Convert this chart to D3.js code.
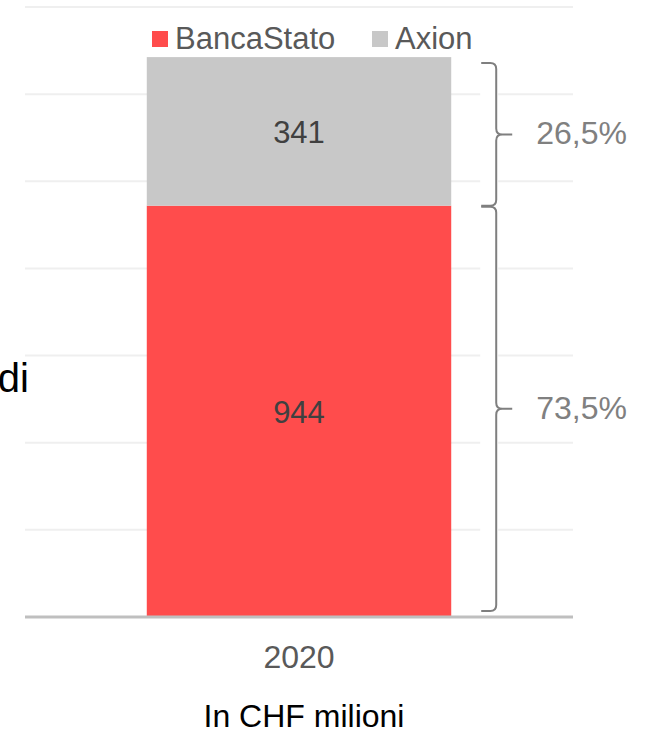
<!DOCTYPE html>
<html>
<head>
<meta charset="utf-8">
<script src="https://cdn.jsdelivr.net/npm/d3@7"></script>
<style>
  body { margin: 0; background: #fff; }
  svg text { font-family: "Liberation Sans", Arial, sans-serif; }
</style>
</head>
<body>
<div id="chart"></div>
<script>
// chart data
var years = ["2020"];
var seriesNames = ["BancaStato", "Axion"];
var seriesColors = ["#ff4c4c", "#c8c8c8"];
var bancaStato = [944];
var axion = [341];
var yTicks = [0, 200, 400, 600, 800, 1000, 1200, 1400];

var width = 647, height = 731;
var margin = {"left": 25, "right": 74, "top": 7, "bottom": 114};

var svg = d3.select("#chart").append("svg")
  .attr("width", width).attr("height", height);

var y = d3.scaleLinear()
  .domain([0, 1400])
  .range([height - margin.bottom, margin.top]);

var x = d3.scaleBand()
  .domain(years)
  .range([margin.left, width - margin.right])
  .paddingInner(0)
  .paddingOuter(0.4);

// gridlines
svg.append("g").selectAll("line")
  .data(yTicks.filter(function(d) { return d > 0; }))
  .enter().append("line")
  .attr("x1", margin.left).attr("x2", width - margin.right)
  .attr("y1", function(d) { return y(d); })
  .attr("y2", function(d) { return y(d); })
  .attr("stroke", "#efefef")
  .attr("stroke-width", 2);

// stack the two series
var rows = years.map(function(yr, i) {
  return {year: yr, BancaStato: bancaStato[i], Axion: axion[i]};
});
var stack = d3.stack().keys(seriesNames)(rows);

var layers = svg.append("g").selectAll("g")
  .data(stack)
  .enter().append("g")
  .attr("fill", function(d, i) { return seriesColors[i]; });

layers.selectAll("rect")
  .data(function(d) { return d; })
  .enter().append("rect")
  .attr("x", function(d) { return x(d.data.year); })
  .attr("width", x.bandwidth())
  .attr("y", function(d) { return y(d[1]); })
  .attr("height", function(d) { return y(d[0]) - y(d[1]); });

// value labels inside the segments
layers.selectAll("text")
  .data(function(d) { return d.map(function(p) { return {p: p, key: d.key}; }); })
  .enter().append("text")
  .attr("x", function(d) { return x(d.p.data.year) + x.bandwidth() / 2; })
  .attr("y", function(d) { return (y(d.p[0]) + y(d.p[1])) / 2 + 12; })
  .attr("text-anchor", "middle")
  .attr("fill", "#404040")
  .style("font-size", "31px")
  .text(function(d) { return d.p.data[d.key]; });

// baseline
svg.append("line")
  .attr("x1", margin.left).attr("x2", width - margin.right)
  .attr("y1", y(0)).attr("y2", y(0))
  .attr("stroke", "#bfbfbf")
  .attr("stroke-width", 3);

// x axis label
svg.append("g")
  .attr("transform", "translate(0," + y(0) + ")")
  .call(d3.axisBottom(x).tickSize(0).tickPadding(28))
  .call(function(g) { g.select(".domain").remove(); })
  .selectAll("text")
  .attr("fill", "#595959")
  .style("font-size", "32px");

// braces with shares
var total = bancaStato[0] + axion[0];
var fmt = function(v) { return d3.format(".1f")(v * 100).replace(".", ",") + "%"; };
var braces = [
  {y0: y(total) + 6, y1: y(bancaStato[0]), label: fmt(axion[0] / total)},
  {y0: y(bancaStato[0]) + 1, y1: y(0) - 6, label: fmt(bancaStato[0] / total)}
];
var bx = x("2020") + x.bandwidth() + 30;  // tip x
var vx = bx + 15;                         // vertical x
var r = 6;

svg.append("rect")
  .attr("x", bx - 1).attr("y", braces[0].y0)
  .attr("width", vx - bx + 3).attr("height", braces[1].y1 - braces[0].y0)
  .attr("fill", "#fff");

function bracePath(b) {
  var m = (b.y0 + b.y1) / 2;
  return "M" + bx + "," + b.y0 +
    " L" + (vx - r) + "," + b.y0 +
    " Q" + vx + "," + b.y0 + " " + vx + "," + (b.y0 + r) +
    " L" + vx + "," + (m - r) +
    " Q" + vx + "," + m + " " + (vx + r) + "," + m +
    " L" + (vx + 16) + "," + m +
    " M" + (vx + r) + "," + m +
    " Q" + vx + "," + m + " " + vx + "," + (m + r) +
    " L" + vx + "," + (b.y1 - r) +
    " Q" + vx + "," + b.y1 + " " + (vx - r) + "," + b.y1 +
    " L" + bx + "," + b.y1;
}

svg.append("g").selectAll("path")
  .data(braces)
  .enter().append("path")
  .attr("d", bracePath)
  .attr("fill", "none")
  .attr("stroke", "#7f7f7f")
  .attr("stroke-width", 2);

svg.append("g").selectAll("text")
  .data(braces)
  .enter().append("text")
  .attr("x", vx + 40)
  .attr("y", function(b) { return (b.y0 + b.y1) / 2 + 10; })
  .attr("fill", "#808080")
  .style("font-size", "32px")
  .text(function(b) { return b.label; });

// legend
var legend = svg.append("g").selectAll("g")
  .data(seriesNames)
  .enter().append("g")
  .attr("transform", function(d, i) { return "translate(" + [152, 372][i] + ",31)"; });
legend.append("rect")
  .attr("width", 16).attr("height", 16)
  .attr("fill", function(d, i) { return seriesColors[i]; });
legend.append("text")
  .attr("x", 23).attr("y", 18)
  .attr("fill", "#595959")
  .style("font-size", "31px")
  .text(function(d) { return d; });

// cut off title fragment at left
svg.append("text")
  .attr("x", 29).attr("y", 392)
  .attr("text-anchor", "end")
  .attr("fill", "#000")
  .style("font-size", "40px")
  .text("di");

// unit note
svg.append("text")
  .attr("x", 304).attr("y", 727)
  .attr("text-anchor", "middle")
  .attr("fill", "#000")
  .style("font-size", "32px")
  .text("In CHF milioni");
</script>
</body>
</html>
